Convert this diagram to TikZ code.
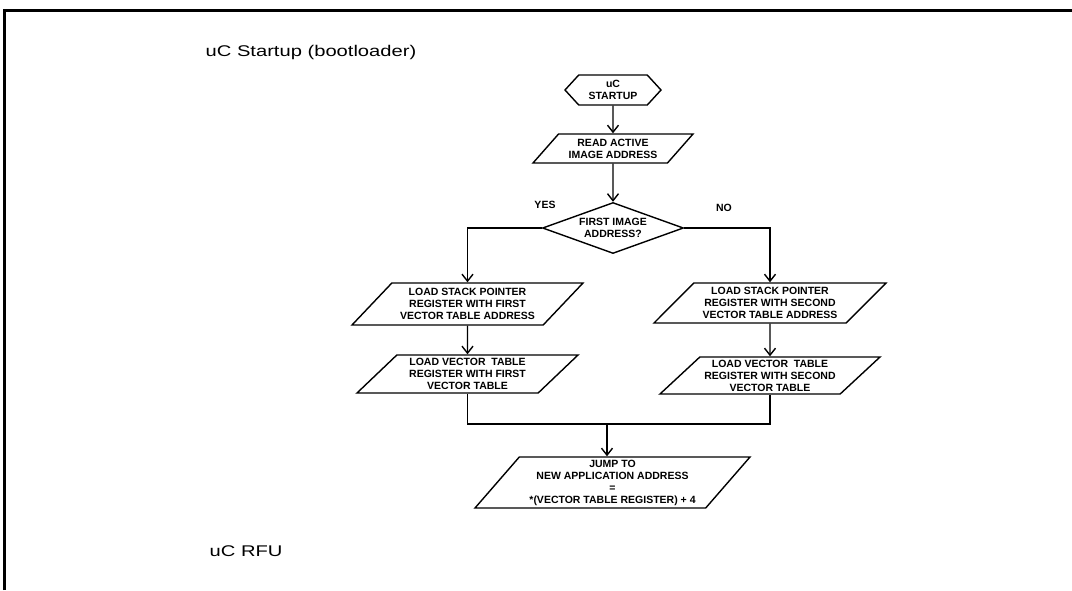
\documentclass[tikz,border=0pt]{standalone}
\usepackage{fontspec}
\setmainfont{Liberation Sans}
\usetikzlibrary{shapes.geometric}
\usetikzlibrary{shapes.symbols}
\usetikzlibrary{arrows.meta}
\usetikzlibrary{scopes}

\tikzset{
    flowtext/.style={font=\fontsize{10.5}{12}\selectfont\bfseries, align=center},
    sidelabel/.style={anchor=base west, inner sep=0pt, font=\fontsize{15.5}{18}\selectfont},
    startbox/.style={draw, flowtext, signal, signal to=west and east, signal pointer angle=95,
        minimum width=96pt, minimum height=30pt, inner sep=0pt},
    iobox/.style={draw, flowtext, trapezium, trapezium left angle=40, trapezium right angle=140,
        trapezium stretches body, inner xsep=0pt, inner ysep=1pt},
    decision/.style={draw, flowtext, diamond, aspect=2.76, minimum width=141pt, minimum height=51pt,
        inner sep=0pt}
}

\begin{document}
\begin{tikzpicture}[x=1pt, y=-1pt, line width=1.4pt,
        >={Straight Barb[length=7pt,width=11pt]}]
        \useasboundingbox (0,0) rectangle (1072,590);
        \draw[line width=2.4pt] (4.5,590) -- (4.5,10.5) -- (1072,10.5);

        \node[sidelabel] (boot) at (205,56.7) {\scalebox{1.3}[1]{uC Startup (bootloader)}};
        \node[sidelabel] (rfu) at (209,556.7) {\scalebox{1.3}[1]{uC RFU}};

        \node[startbox] (start) at (613,90) {uC\\STARTUP};
        \node[iobox, minimum width=160pt, minimum height=29pt] (read) at (613,148.5)
            {READ ACTIVE\\IMAGE ADDRESS};
        \node[decision] (first) at (613,228) {FIRST IMAGE\\ADDRESS?};
        \node[flowtext] (yes) at (545,205) {YES};
        \node[flowtext] (no) at (724,208) {NO};

        \node[iobox, minimum width=231pt, minimum height=42pt] (sp1) at (467.5,304)
            {LOAD STACK POINTER\\REGISTER WITH FIRST\\VECTOR TABLE ADDRESS};
        \node[iobox, minimum width=221pt, minimum height=38pt] (vt1) at (467.5,374)
            {LOAD VECTOR~ TABLE\\REGISTER WITH FIRST\\VECTOR TABLE};
        \node[iobox, minimum width=232pt, minimum height=40pt] (sp2) at (770,303)
            {LOAD STACK POINTER\\REGISTER WITH SECOND\\VECTOR TABLE ADDRESS};
        \node[iobox, minimum width=220pt, minimum height=37pt] (vt2) at (770,375.5)
            {LOAD VECTOR~ TABLE\\REGISTER WITH SECOND\\VECTOR TABLE};

        \coordinate (merge) at (607,424);
        \node[iobox, trapezium left angle=47, trapezium right angle=133,
            minimum width=275pt, minimum height=51pt] (jump) at (612.5,482.5)
            {JUMP TO\\NEW APPLICATION ADDRESS\\=\\*(VECTOR TABLE REGISTER) + 4};

        { [->]
            \draw (start) -- (read);
            \draw (read) -- (first);
            \draw (first.west) -| (sp1.north);
            \draw (first.east) -| (sp2.north);
            \draw (sp1) -- (vt1);
            \draw (sp2) -- (vt2);
            \draw (merge) -- (merge |- jump.north);
        }
        \draw (vt1.south) |- (merge) -| (vt2.south);
    \end{tikzpicture}
\end{document}
